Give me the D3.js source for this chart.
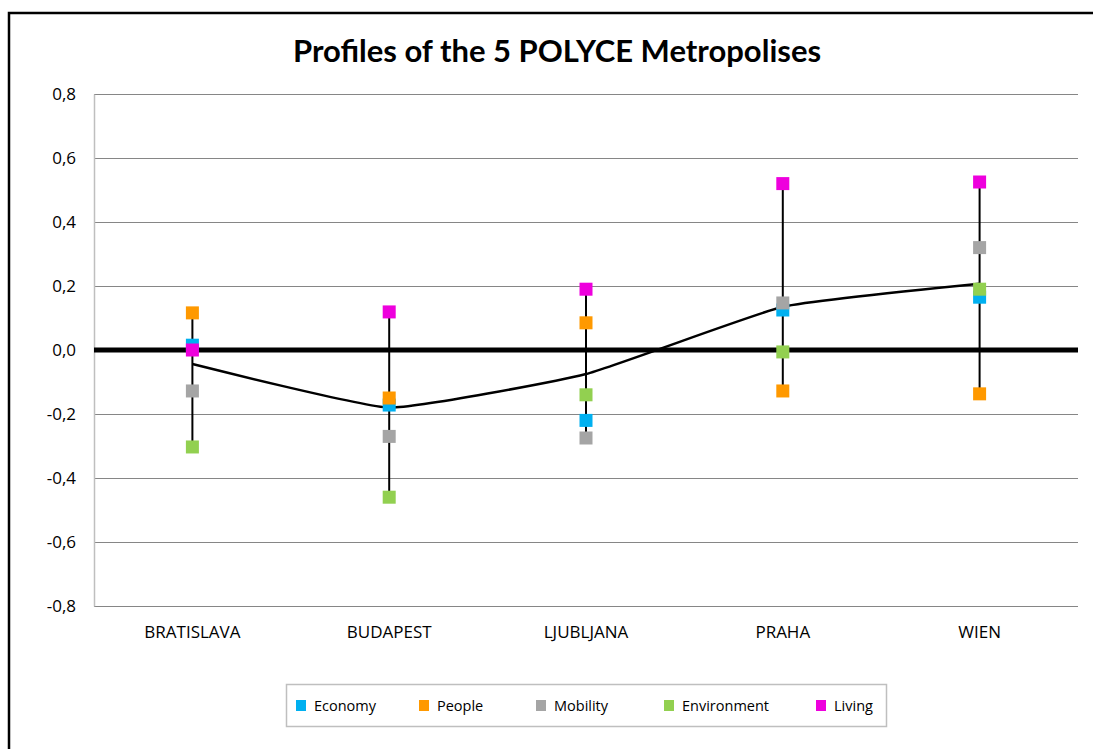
<!DOCTYPE html>
<html>
<head>
<meta charset="utf-8">
<script src="https://cdn.jsdelivr.net/npm/d3@7"></script>
<style>
  body { margin: 0; background: #fff; }
  text { font-family: "Open Sans", sans-serif; }
</style>
</head>
<body>
<svg id="chart" width="1093" height="749"></svg>
<script>
// data
const cities = ["BRATISLAVA", "BUDAPEST", "LJUBLJANA", "PRAHA", "WIEN"]
const seriesNames = ["Economy", "People", "Mobility", "Environment", "Living"]
const seriesColors = ["#00b0f0", "#ff9900", "#a5a5a5", "#92d050", "#ee00dd"]
const economy = [0.015, -0.172, -0.22, 0.125, 0.165]
const people = [0.116, -0.15, 0.085, -0.128, -0.137]
const mobility = [-0.128, -0.27, -0.275, 0.147, 0.32]
const environment = [-0.303, -0.46, -0.14, -0.006, 0.19]
const living = [0.0, 0.119, 0.19, 0.52, 0.525]
const average = [-0.044, -0.18, -0.075, 0.135, 0.207]
const yTicks = [-0.8, -0.6, -0.4, -0.2, 0.0, 0.2, 0.4, 0.6, 0.8]

const series = [economy, people, mobility, environment, living]

const svg = d3.select("#chart")
const margin = {left: 94, right: 1078, top: 94, bottom: 606}

// outer chart border (only top and left visible)
svg.append("path")
  .attr("d", "M9,749 L9,13 L1093,13")
  .attr("fill", "none")
  .attr("stroke", "#000")
  .attr("stroke-width", 2.5)

svg.append("text")
  .attr("x", 557)
  .attr("y", 62)
  .attr("text-anchor", "middle")
  .style("font-family", "Lato, sans-serif")
  .style("font-weight", "bold")
  .style("font-size", "31px")
  .text("Profiles of the 5 POLYCE Metropolises")

const x = d3.scaleBand().domain(cities).range([margin.left, margin.right])
const y = d3.scaleLinear().domain([-0.8, 0.8]).range([margin.bottom, margin.top])

// gridlines
svg.append("g")
  .selectAll("line")
  .data(yTicks)
  .enter()
  .append("line")
  .attr("x1", margin.left)
  .attr("x2", margin.right)
  .attr("y1", d => Math.round(y(d)) + 0.5)
  .attr("y2", d => Math.round(y(d)) + 0.5)
  .attr("stroke", "#868686")
  .attr("stroke-width", 1)

// y axis
const yAxis = svg.append("g")
  .attr("transform", `translate(${margin.left},0)`)
  .call(d3.axisLeft(y).tickValues(yTicks).tickSize(0).tickPadding(18)
    .tickFormat(d => d3.format(".1f")(d).replace(".", ",").replace("−", "-")))
yAxis.attr("font-size", null).attr("font-family", null)
yAxis.select(".domain").attr("stroke", "#bfbfbf").attr("stroke-width", 1.5)
yAxis.selectAll("text").style("font-size", "17px").attr("fill", "#000")

// category labels
svg.append("g")
  .selectAll("text")
  .data(cities)
  .enter()
  .append("text")
  .attr("x", d => x(d) + x.bandwidth() / 2)
  .attr("y", 638)
  .attr("text-anchor", "middle")
  .style("font-size", "17px")
  .text(d => d)

// high-low lines
svg.append("g")
  .selectAll("line")
  .data(cities)
  .enter()
  .append("line")
  .attr("x1", d => x(d) + x.bandwidth() / 2)
  .attr("x2", d => x(d) + x.bandwidth() / 2)
  .attr("y1", (d, i) => y(d3.max(series, s => s[i])))
  .attr("y2", (d, i) => y(d3.min(series, s => s[i])))
  .attr("stroke", "#000")
  .attr("stroke-width", 2)

// zero line
svg.append("line")
  .attr("x1", margin.left)
  .attr("x2", margin.right)
  .attr("y1", y(0))
  .attr("y2", y(0))
  .attr("stroke", "#000")
  .attr("stroke-width", 5)

// average line
const line = d3.line()
  .x((d, i) => x(cities[i]) + x.bandwidth() / 2)
  .y(d => y(d))
  .curve(d3.curveCardinal.tension(0.6))
svg.append("path")
  .datum(average)
  .attr("d", line)
  .attr("fill", "none")
  .attr("stroke", "#000")
  .attr("stroke-width", 2.5)

// markers
const ms = 13
series.forEach((s, k) => {
  svg.append("g")
    .selectAll("rect")
    .data(s)
    .enter()
    .append("rect")
    .attr("x", (d, i) => x(cities[i]) + x.bandwidth() / 2 - ms / 2)
    .attr("y", d => y(d) - ms / 2)
    .attr("width", ms)
    .attr("height", ms)
    .attr("fill", seriesColors[k])
})

// legend
svg.append("rect")
  .attr("x", 286.5)
  .attr("y", 684.5)
  .attr("width", 600)
  .attr("height", 42)
  .attr("fill", "#fff")
  .attr("stroke", "#bfbfbf")
  .attr("stroke-width", 1.5)

const legendX = [296, 419, 536, 664, 816]
const leg = svg.append("g")
  .selectAll("g")
  .data(seriesNames)
  .enter()
  .append("g")
  .attr("transform", (d, i) => `translate(${legendX[i]},700)`)
leg.append("rect")
  .attr("width", 10)
  .attr("height", 11)
  .attr("fill", (d, i) => seriesColors[i])
leg.append("text")
  .attr("x", 18)
  .attr("y", 11)
  .style("font-size", "14.5px")
  .text(d => d)
</script>
</body>
</html>
